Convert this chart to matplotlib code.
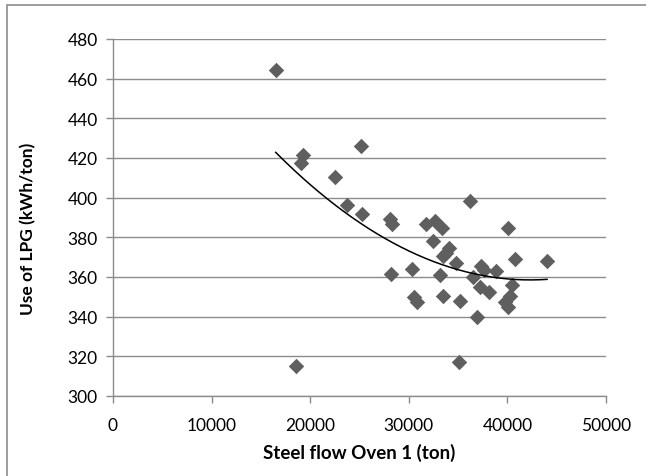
import numpy as np
import matplotlib
matplotlib.use("Agg")
import matplotlib.pyplot as plt
from matplotlib.patches import Rectangle

plt.rcParams["font.family"] = ["Lato", "DejaVu Sans"]

# Steel flow Oven 1 (ton) vs Use of LPG (kWh/ton)
steel_flow = [16500, 18600, 19230, 19100, 22490, 23700, 25130, 25300,
              28130, 28340, 28220, 30310, 30520, 30810, 31770, 32480,
              32690, 33320, 33150, 33450, 33450, 34070, 33800, 34780,
              35240, 35120, 36160, 36500, 36910, 37210, 37330, 37600,
              38170, 38880, 40050, 39720, 40050, 40220, 40470, 40760,
              44020]
lpg_use = [464.3, 315.2, 421.6, 417.6, 410.4, 396.5, 425.9, 392.0,
           389.3, 386.5, 361.6, 364.0, 350.1, 347.6, 386.8, 378.1,
           388.0, 384.8, 360.8, 350.2, 370.6, 374.5, 372.0, 367.0,
           347.8, 316.9, 398.2, 360.1, 339.7, 354.8, 365.3, 363.5,
           352.6, 363.2, 384.8, 347.6, 344.8, 350.3, 356.1, 369.0,
           368.1]

x_ticks = [0, 10000, 20000, 30000, 40000, 50000]
y_ticks = [300, 320, 340, 360, 380, 400, 420, 440, 460, 480]

fig = plt.figure(figsize=(6.46, 4.77), dpi=100)
ax = fig.add_axes([113 / 646, 1 - 397 / 477, (606 - 113) / 646, (397 - 40) / 477])

grid_col = "#8c8c8c"
ax.scatter(steel_flow, lpg_use, marker="D", s=62, color="#5f5f5f", zorder=3, linewidths=0)

# 2nd order polynomial trendline
coef = np.polyfit(steel_flow, lpg_use, 2)
xs = np.linspace(min(steel_flow), max(steel_flow), 200)
ax.plot(xs, np.polyval(coef, xs), color="black", lw=1.1, zorder=4)

ax.set_xlim(0, 50000)
ax.set_ylim(300, 480)
ax.set_xticks(x_ticks)
ax.set_yticks(y_ticks)
ax.tick_params(axis="both", labelsize=12.5, color=grid_col, length=5, width=1, pad=6)
ax.tick_params(axis="x", pad=10)
ax.yaxis.grid(True, color=grid_col, lw=1)
ax.set_axisbelow(True)
for side in ["top", "right"]:
    ax.spines[side].set_visible(False)
for side in ["left", "bottom"]:
    ax.spines[side].set_color(grid_col)
    ax.spines[side].set_linewidth(1)

ax.set_xlabel("Steel flow Oven 1 (ton)", fontsize=13.5, fontweight="bold", labelpad=7)
ax.set_ylabel("Use of LPG (kWh/ton)", fontsize=12.5, fontweight="bold", labelpad=12)
ax.yaxis.set_label_coords(-0.155, 0.47)

# chart border (cropped on right and bottom)
fig.patches.append(Rectangle((7 / 646, -0.1), 1.2, 1.1 - 6 / 477,
                             transform=fig.transFigure, fill=False,
                             edgecolor="#8c8c8c", lw=1.2))

fig.savefig("out.png", dpi=100)
